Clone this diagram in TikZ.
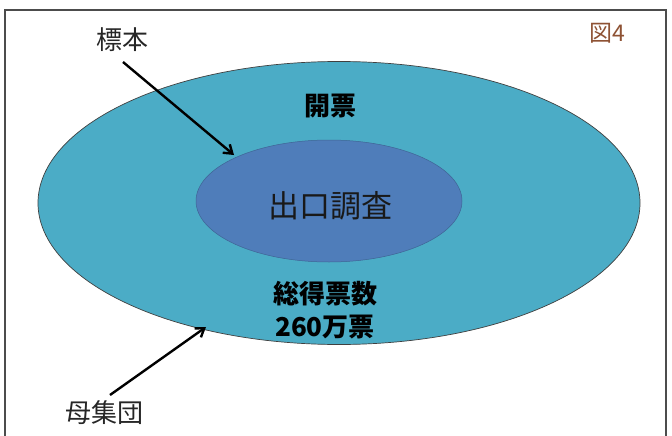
\documentclass[tikz,border=0pt]{standalone}
\usepackage{fontspec}
\newfontfamily\jp{Noto Sans CJK JP}
\usetikzlibrary{arrows.meta,shapes.geometric}
\definecolor{outerc}{HTML}{4BACC6}
\definecolor{innerc}{HTML}{4F7DBA}
\definecolor{figc}{HTML}{8E5234}
\tikzset{
  lbl/.style={font=\jp\fontsize{26}{28}\selectfont, text=black!85},
  bold/.style={font=\jp\bfseries\fontsize{26}{33}\selectfont, align=center},
  ptr/.style={line width=2.4pt, -{Straight Barb[length=8pt,width=11pt]}},
}
\begin{document}
\begin{tikzpicture}[x=1pt,y=-1pt]
\useasboundingbox (0,0) rectangle (672,436);
\fill[white] (0,0) rectangle (672,436);
\draw[black!70, line width=1.3pt] (5,437) -- (5,10) -- (666,10) -- (666,437);
\node[draw=black!75, line width=0.7pt, fill=outerc, ellipse, minimum width=602, minimum height=283, inner sep=0] (pop) at (339,203) {};
\node[draw=innerc!80!black, line width=0.5pt, fill=innerc, ellipse, minimum width=266, minimum height=122, inner sep=0] (smp) at (329,201) {};
\node[font=\jp\fontsize{31}{34}\selectfont, text=black!90] (exit) at (330,206) {出口調査};
\node[bold] (kaihyo) at (330,106) {開票};
\node[bold] (total) at (325,310) {総得票数\\260万票};
\node[lbl] (hyohon) at (122,40) {標本};
\node[lbl] (boshu) at (104,413) {母集団};
\node[font=\jp\fontsize{23}{26}\selectfont, text=figc] (fig) at (607,33) {図4};
\coordinate (a1) at (123,62);
\coordinate (b1) at (234,155);
\coordinate (a2) at (110,395);
\coordinate (b2) at (206,327);
\draw[ptr] (a1) -- (b1);
\draw[ptr] (a2) -- (b2);
\end{tikzpicture}
\end{document}
